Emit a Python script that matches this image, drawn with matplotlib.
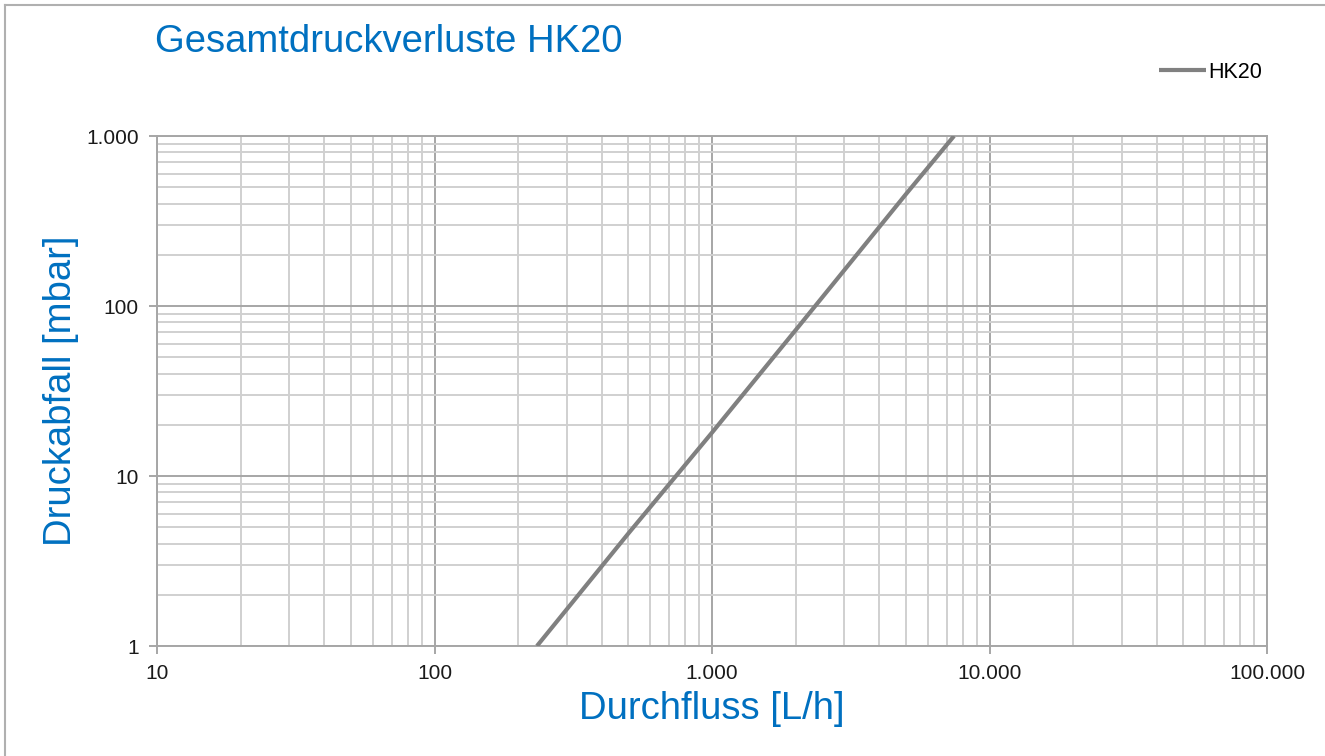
import matplotlib
matplotlib.use("Agg")
import matplotlib.pyplot as plt
from matplotlib.ticker import FixedLocator, FuncFormatter, LogLocator, NullFormatter
from matplotlib.lines import Line2D

# Data
flow = [234, 500, 1000, 2000, 5000, 7450]          # Durchfluss [L/h]
dp = [1.0, 4.6, 18, 72, 455, 1000]                  # Druckabfall [mbar]
series_name = "HK20"
x_ticks = [10, 100, 1000, 10000, 100000]
y_ticks = [1, 10, 100, 1000]

BLUE = "#0070C0"
plt.rcParams['font.family'] = ['Liberation Sans', 'DejaVu Sans']

W, H = 1325, 756
fig = plt.figure(figsize=(W / 100, H / 100), dpi=100)
ax = fig.add_axes([157 / W, 1 - 646 / H, (1267 - 157) / W, (646 - 136) / H])

ax.set_xscale('log')
ax.set_yscale('log')
ax.set_xlim(10, 100000)
ax.set_ylim(1, 1000)

ax.plot(flow, dp, color='#808080', lw=3.0, solid_capstyle='butt', label=series_name, zorder=3)

def de_fmt(v, pos):
    return f"{int(round(v)):,}".replace(",", ".")

ax.xaxis.set_major_locator(FixedLocator(x_ticks))
ax.yaxis.set_major_locator(FixedLocator(y_ticks))
ax.xaxis.set_major_formatter(FuncFormatter(de_fmt))
ax.yaxis.set_major_formatter(FuncFormatter(de_fmt))
ax.xaxis.set_minor_locator(LogLocator(base=10, subs=range(2, 10), numticks=20))
ax.yaxis.set_minor_locator(LogLocator(base=10, subs=range(2, 10), numticks=20))
ax.xaxis.set_minor_formatter(NullFormatter())
ax.yaxis.set_minor_formatter(NullFormatter())

ax.grid(which='major', color='#a6a6a6', lw=1.4, zorder=1)
ax.grid(which='minor', color='#d0d0d0', lw=1.4, zorder=0)
ax.tick_params(which='major', length=6, width=1.4, color='#a6a6a6', labelsize=15,
               labelcolor='#1a1a1a', pad=7)
ax.tick_params(which='minor', length=0)
for s in ax.spines.values():
    s.set_color('#a6a6a6')
    s.set_linewidth(1.4)

ax.set_xlabel("Durchfluss [L/h]", fontsize=27.5, color=BLUE, labelpad=6)
ax.set_ylabel("Druckabfall [mbar]", fontsize=27.5, color=BLUE, labelpad=5)

fig.text(155 / W, 1 - 42 / H, "Gesamtdruckverluste HK20", fontsize=27.5, color=BLUE,
         ha='left', va='center')

leg = ax.legend(loc='center left', bbox_to_anchor=(1159 / W, 1 - 72 / H),
                bbox_transform=fig.transFigure, frameon=False, fontsize=15.5,
                handlelength=2.2, handletextpad=0.1, borderpad=0, borderaxespad=0)

# figure border (top and left visible)
fig.add_artist(Line2D([5 / W, 5 / W], [0, 1 - 5 / H], transform=fig.transFigure,
                      color='#b0b0b0', lw=1.5))
fig.add_artist(Line2D([5 / W, 1], [1 - 5 / H, 1 - 5 / H], transform=fig.transFigure,
                      color='#b0b0b0', lw=1.5))

fig.savefig("out.png", dpi=100)
